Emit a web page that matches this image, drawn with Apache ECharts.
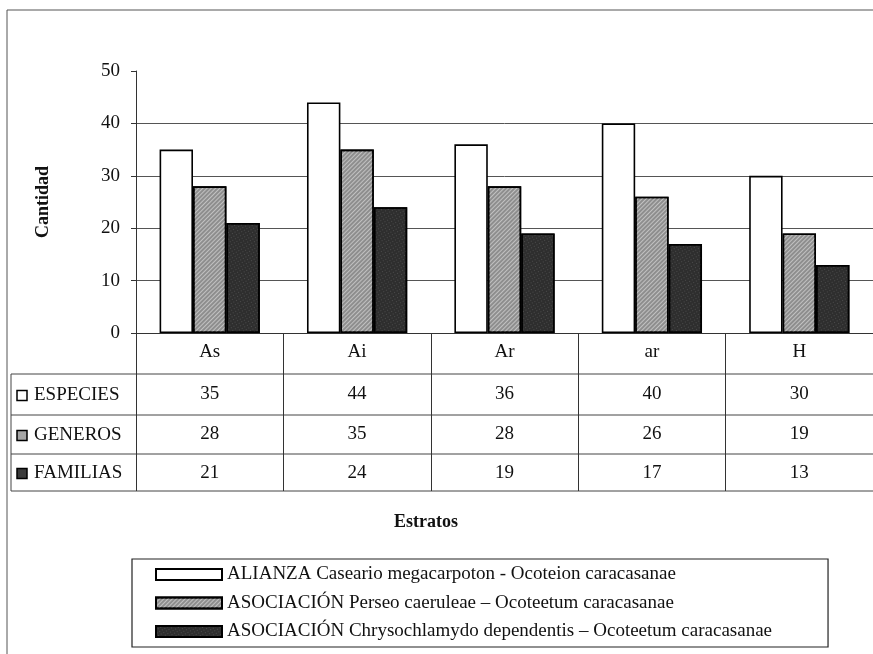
<!DOCTYPE html>
<html>
<head>
<meta charset="utf-8">
<script src="https://cdn.jsdelivr.net/npm/echarts@6/dist/echarts.min.js"></script>
<style>
  html, body { margin: 0; padding: 0; background: #fff; }
  #chart { width: 873px; height: 654px; }
</style>
</head>
<body>
<div id="chart"></div>
<script>
// Strata and counts per taxonomic level
const categories = ['As', 'Ai', 'Ar', 'ar', 'H'];
const especies = [35, 44, 36, 40, 30];
const generos = [28, 35, 28, 26, 19];
const familias = [21, 24, 19, 17, 13];
const rowLabels = ['ESPECIES', 'GENEROS', 'FAMILIAS'];
const legendNames = [
  'ALIANZA Caseario megacarpoton - Ocoteion caracasanae',
  'ASOCIACIÓN Perseo caeruleae \u2013 Ocoteetum caracasanae',
  'ASOCIACIÓN Chrysochlamydo dependentis \u2013 Ocoteetum caracasanae'
];
const yMin = 0, yMax = 50, yStep = 10;

const FONT = 'Liberation Serif';
const fills = ['#ffffff', '#8e8e8e', '#2e2e2e'];
// fine hatching laid over the grey and dark fills
const decals = [
  null,
  { symbol: 'rect', symbolSize: 1, dashArrayX: [[1, 0]], dashArrayY: [1, 2], rotation: -Math.PI / 4,
    color: 'rgba(255,255,255,0.45)' },
  { symbol: 'rect', symbolSize: 1, dashArrayX: [[1, 2]], dashArrayY: [1, 2], rotation: -Math.PI / 6,
    color: 'rgba(255,255,255,0.14)' }
];
const rows = [especies, generos, familias];

const chart = echarts.init(document.getElementById('chart'), null, { renderer: 'canvas' });

const GRID_LEFT = 136, GRID_TOP = 71, GRID_BOTTOM_Y = 333;
const rowOffsets = [42, 82, 121];     // value rows of the table below the axis
const tableLines = [374, 415, 454, 491];

// Extra category axes that print the table values under each stratum
const tableAxes = rows.map((vals, r) => ({
  type: 'category',
  data: categories,
  position: 'bottom',
  offset: rowOffsets[r],
  axisLine: { show: false },
  axisTick: { show: false },
  splitLine: { show: false },
  axisLabel: {
    margin: 10,
    fontFamily: FONT, fontSize: 19, color: '#111',
    formatter: (v, i) => String(vals[i])
  }
}));

const swatchFill = ['#ffffff', '#a6a6a6', '#3a3a3a'];

const graphics = [
  // outer frame (top and left edges)
  { type: 'line', shape: { x1: 7, y1: 10, x2: 873, y2: 10 }, style: { stroke: '#555', lineWidth: 1 } },
  { type: 'line', shape: { x1: 7, y1: 10, x2: 7, y2: 654 }, style: { stroke: '#555', lineWidth: 1 } },
  // table frame
  { type: 'line', shape: { x1: 11, y1: tableLines[0], x2: 11, y2: tableLines[3] }, style: { stroke: '#444', lineWidth: 1 } },
  ...tableLines.map(y => ({
    type: 'line', shape: { x1: 11, y1: y, x2: 873, y2: y }, style: { stroke: '#444', lineWidth: 1 }
  })),
  // row headers with their swatches
  ...rowLabels.flatMap((lab, r) => {
    const cy = (tableLines[r] + tableLines[r + 1]) / 2 + 1;
    return [
      { type: 'rect', shape: { x: 17, y: cy - 5, width: 10, height: 10 },
        style: { fill: swatchFill[r], stroke: '#000', lineWidth: 1.5 } },
      { type: 'text', x: 34, y: cy, style: { text: lab, font: '19px "Liberation Serif"', fill: '#111',
        textVerticalAlign: 'middle', verticalAlign: 'middle' } }
    ];
  }),
  // x axis title
  { type: 'text', x: 426, y: 522, style: { text: 'Estratos', font: 'bold 18px "Liberation Serif"', fill: '#111',
    align: 'center', verticalAlign: 'middle', textAlign: 'center', textVerticalAlign: 'middle' } }
];

const option = {
  animation: false,
  backgroundColor: '#fff',
  grid: { left: GRID_LEFT, top: GRID_TOP, right: -4, bottom: 654 - GRID_BOTTOM_Y, containLabel: false },
  legend: {
    orient: 'vertical',
    left: 132, top: 559,
    data: legendNames,
    itemWidth: 66, itemHeight: 11,
    itemGap: 9.5,
    padding: [6, 56, 6, 23],
    borderColor: '#222', borderWidth: 1.2,
    icon: 'rect',
    textStyle: { fontFamily: FONT, fontSize: 19, color: '#111', padding: [0, 0, 0, 0] },
    selectedMode: false
  },
  xAxis: [
    {
      type: 'category',
      data: categories,
      axisLine: { show: true, lineStyle: { color: '#333', width: 1 } },
      axisTick: { show: true, alignWithLabel: false, length: tableLines[3] - GRID_BOTTOM_Y, inside: false,
        lineStyle: { color: '#333', width: 1 } },
      axisLabel: { margin: 10, fontFamily: FONT, fontSize: 19, color: '#111' },
      splitLine: { show: false }
    },
    ...tableAxes
  ],
  yAxis: {
    type: 'value',
    min: yMin, max: yMax, interval: yStep,
    name: 'Cantidad',
    nameLocation: 'middle',
    nameRotate: 90,
    nameGap: 84,
    nameTextStyle: { fontFamily: FONT, fontSize: 18, fontWeight: 'bold', color: '#111' },
    axisLine: { show: true, lineStyle: { color: '#333', width: 1 } },
    axisTick: { show: true, length: 5, lineStyle: { color: '#333' } },
    axisLabel: { margin: 16, fontFamily: FONT, fontSize: 19, color: '#111' },
    splitLine: { show: true, showMaxLine: false, lineStyle: { color: '#555', width: 1 } }
  },
  series: rows.map((vals, r) => ({
    type: 'bar',
    name: legendNames[r],
    data: vals,
    barGap: '0%',
    barCategoryGap: '32%',
    itemStyle: Object.assign(
      { color: fills[r], borderColor: '#000', borderWidth: 1.6 },
      decals[r] ? { decal: decals[r] } : {}
    )
  })),
  graphic: graphics
};

chart.setOption(option);
</script>
</body>
</html>
